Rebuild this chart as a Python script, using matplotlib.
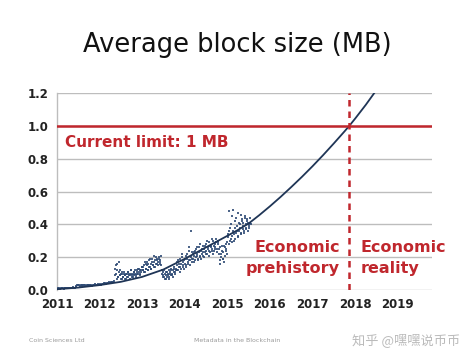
import numpy as np
import matplotlib
matplotlib.use("Agg")
import matplotlib.pyplot as plt

# ---- data ----
year_ticks = [2011, 2012, 2013, 2014, 2015, 2016, 2017, 2018, 2019]
y_ticks = [0.0, 0.2, 0.4, 0.6, 0.8, 1.0, 1.2]
limit_mb = 1.0
limit_year = 2017.86

# observed average block sizes (MB): (start year, values) with a 0.02-year step
seg_2011a = (2011.00, [0.008,0.010,0.007,0.012,0.009,0.011,0.010,0.013,0.009,0.012,0.011,0.014,
                       0.010,0.013,0.012,0.015,0.011,0.014,0.013,0.016,0.012,0.015,0.018])
seg_2011b = (2011.46, [0.026,0.030,0.028,0.032,0.027,0.031,0.029,0.026,0.030,0.028,0.033,0.027,
                       0.030,0.029,0.032,0.028,0.031,0.030,0.027,0.033,0.029,0.031,0.034,0.030,
                       0.032,0.035,0.031])
seg_2012a = (2012.00, [0.033,0.036,0.032,0.038,0.035,0.040,0.036,0.042,0.038,0.044,0.040,0.046,
                       0.042,0.048,0.045,0.050,0.047,0.052])
seg_2012b = (2012.36, [0.09,0.15,0.07,0.12,0.08,0.17,0.09,0.10,0.07,0.11,0.08,0.10,0.09,0.07,
                       0.10,0.11,0.08,0.10,0.09,0.12,0.08,0.10,0.11,0.09,0.12,0.08,0.11,0.10,
                       0.13,0.09,0.12,0.11,0.14])
seg_2013a = (2013.02, [0.12,0.15,0.11,0.16,0.13,0.17,0.12,0.18,0.14,0.16,0.13,0.19,0.15,0.17,
                       0.14,0.20,0.16,0.18,0.15,0.19,0.17,0.21])
seg_2013b = (2013.46, [0.12,0.09,0.11,0.08,0.10,0.07,0.11,0.09,0.12,0.08,0.10,0.13,0.09,0.12,
                       0.11,0.14,0.10])
seg_2013c = (2013.80, [0.13,0.17,0.12,0.16,0.14,0.19,0.13,0.22,0.15,0.18,0.16,0.21,0.14,0.19,
                       0.17,0.24,0.18,0.20,0.17,0.23])
seg_2014a = (2014.20, [0.19,0.23,0.18,0.25,0.21,0.22,0.19,0.26,0.20,0.24,0.22,0.27,0.21,0.25,
                       0.23,0.28,0.22,0.26,0.24,0.29,0.23,0.27,0.25,0.30,0.24,0.28,0.26,0.31,
                       0.25,0.29])
seg_2014b = (2014.80, [0.22,0.18,0.26,0.20,0.24,0.19,0.27,0.21,0.25,0.28])
seg_2015 = (2015.00, [0.29,0.34,0.28,0.38,0.31,0.45,0.33,0.36,0.30,0.42,0.35,0.39,0.32,0.47,
                      0.36,0.40,0.34,0.43,0.37,0.41,0.35,0.44,0.38,0.42,0.36,0.40,0.39,0.41])

# second set of observations in the noisy period (offset by 0.01 year)
extra_2012b = (2012.37, [0.13,0.10,0.16,0.08,0.11,0.09,0.12,0.07,0.10,0.08,0.11,0.09,0.07,0.10,
                         0.08,0.11,0.09,0.07,0.10,0.12,0.09,0.08,0.11,0.10,0.09,0.12,0.10,0.13,
                         0.11,0.10,0.12,0.14,0.12])
extra_2013a = (2013.03, [0.14,0.11,0.17,0.13,0.15,0.12,0.16,0.14,0.19,0.13,0.17,0.15,0.21,0.14,
                         0.18,0.16,0.19,0.17,0.20,0.16,0.18,0.15])
extra_2013b = (2013.47, [0.10,0.08,0.12,0.07,0.09,0.11,0.08,0.10,0.07,0.11,0.09,0.12,0.10,0.08,
                         0.13,0.11,0.12])
extra_2013c = (2013.81, [0.15,0.12,0.18,0.14,0.11,0.16,0.20,0.14,0.17,0.13,0.19,0.15,0.22,0.16,
                         0.26,0.18,0.15,0.36,0.19,0.22])
extra_2014a = (2014.21, [0.21,0.17,0.24,0.20,0.26,0.18,0.23,0.21,0.28,0.19,0.25,0.23,0.20,0.27,
                         0.24,0.22,0.30,0.25,0.21,0.27,0.26,0.24,0.31,0.22,0.27,0.25,0.29,0.23,
                         0.28,0.30])
extra_2014b = (2014.81, [0.25,0.16,0.22,0.27,0.19,0.23,0.17,0.26,0.24,0.22])
extra_2015 = (2015.01, [0.32,0.48,0.36,0.30,0.40,0.29,0.49,0.34,0.38,0.31,0.44,0.36,0.33,0.41,
                        0.38,0.46,0.35,0.42,0.39,0.36,0.45,0.40,0.37,0.43,0.41,0.38,0.44,0.40])

segments = [seg_2011a, seg_2011b, seg_2012a, seg_2012b, seg_2013a, seg_2013b,
            seg_2013c, seg_2014a, seg_2014b, seg_2015,
            extra_2012b, extra_2013a, extra_2013b, extra_2013c, extra_2014a,
            extra_2014b, extra_2015]

# fitted trend curve
trend_years = [2011.0, 2011.5, 2012.0, 2012.5, 2013.0, 2013.5, 2014.0, 2014.5, 2015.0,
               2015.25, 2015.5, 2015.75, 2016.0, 2016.25, 2016.5, 2016.75, 2017.0, 2017.25,
               2017.5, 2017.75, 2017.86, 2018.0, 2018.25, 2018.45]
trend_mb = [0.005, 0.015, 0.03, 0.05, 0.08, 0.125, 0.19, 0.26, 0.33,
            0.366, 0.405, 0.456, 0.510, 0.567, 0.627, 0.689, 0.754, 0.822,
            0.893, 0.966, 0.999, 1.044, 1.128, 1.20]

RED = "#c0272d"
NAVY = "#1f3556"
GRID = "#bdbdbd"

fig = plt.figure(figsize=(4.74, 3.55), dpi=100)
ax = fig.add_axes([0.120, 0.183, 0.791, 0.555])

for start, vals in segments:
    xs = start + 0.02 * np.arange(len(vals))
    ax.scatter(xs, vals, s=4.5, marker="s", color="#2e4a74", alpha=0.85, linewidths=0, zorder=3)

ax.plot(trend_years, trend_mb, color=NAVY, lw=1.3, zorder=4)

ax.axhline(limit_mb, color=RED, lw=1.8, zorder=5)
ax.axvline(limit_year, color=RED, lw=1.8, ls=(0, (2.6, 2.0)), zorder=5)

ax.set_xlim(2011, 2019.8)
ax.set_ylim(0, 1.2)
ax.set_yticks(y_ticks)
ax.set_yticklabels([f"{v:.1f}" for v in y_ticks])
ax.set_xticks(year_ticks)
ax.set_xticklabels([str(y) for y in year_ticks])
ax.tick_params(length=0, labelsize=8.5, colors="#222222", pad=6)
for lab in ax.get_xticklabels() + ax.get_yticklabels():
    lab.set_fontweight("bold")
ax.grid(axis="y", color=GRID, lw=1)
ax.set_axisbelow(True)
for s in ["top", "right", "bottom"]:
    ax.spines[s].set_visible(False)
ax.spines["left"].set_color(GRID)
ax.spines["left"].set_linewidth(1)

ax.text(2011.19, 0.9, "Current limit: 1 MB", color=RED, fontsize=11, fontweight="bold",
        va="center", ha="left")
ax.text(2017.64, 0.195, "Economic\nprehistory", color=RED, fontsize=11.5, fontweight="bold",
        va="center", ha="right", linespacing=1.45)
ax.text(2018.12, 0.195, "Economic\nreality", color=RED, fontsize=11.5, fontweight="bold",
        va="center", ha="left", linespacing=1.45)

fig.text(0.5, 0.873, "Average block size (MB)", fontsize=18.5, ha="center", va="center",
         color="#111111")
fig.text(0.061, 0.042, "Coin Sciences Ltd", fontsize=4.5, color="#999999", va="center")
fig.text(0.5, 0.042, "Metadata in the Blockchain", fontsize=4.5, color="#999999",
         va="center", ha="center")
fig.text(0.97, 0.042, "知乎 @嘿嘿说币币", fontsize=9.5, color="#bbbbbb", va="center", ha="right",
         family=["Noto Sans CJK SC", "DejaVu Sans"])

fig.savefig("out.png", dpi=100)
